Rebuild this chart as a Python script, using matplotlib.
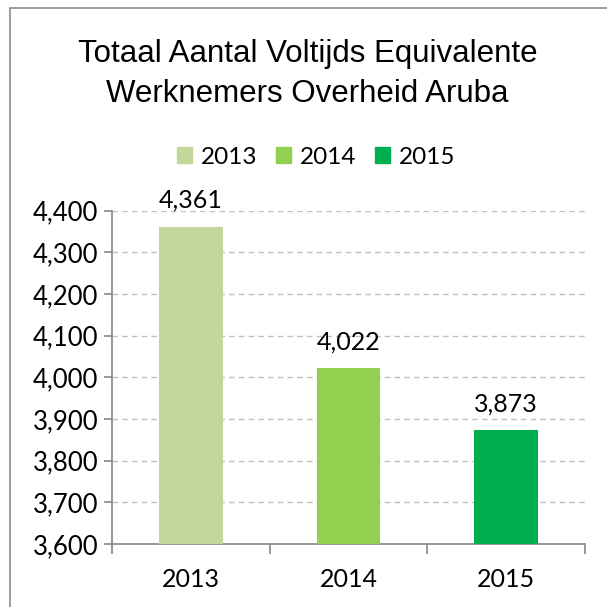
import matplotlib.pyplot as plt
from matplotlib.patches import Rectangle
from matplotlib.ticker import FuncFormatter, FixedLocator
import numpy as np

years = ["2013", "2014", "2015"]
values = [4361, 4022, 3873]
colors = ["#C4D79B", "#92D050", "#00B050"]

fig = plt.figure(figsize=(6.07, 6.07), dpi=100)
# outer chart border (cut off at right and bottom)
fig.patches.append(Rectangle((10/607, -0.05), 1.2, 1 - 8/607 + 0.05, transform=fig.transFigure,
                             fill=False, edgecolor="#8c8c8c", linewidth=1.2))

ax = fig.add_axes([112/607, 1 - 544/607, (585 - 112)/607, (544 - 210.7)/607])
x = np.arange(len(years))
bars = ax.bar(x, values, width=0.405, color=colors, bottom=0, zorder=3)
ax.set_ylim(3600, 4400)
ax.set_xlim(-0.5, 2.5)

for spine in ["top", "right"]:
	ax.spines[spine].set_visible(False)
ax.spines["left"].set_color("#868686")
ax.spines["bottom"].set_color("#868686")
ax.spines["left"].set_linewidth(1.2)
ax.spines["bottom"].set_linewidth(1.2)

ax.yaxis.grid(True, linestyle=(0, (4, 3)), color="#BFBFBF", linewidth=1, zorder=0)
ax.set_yticks(np.arange(3600, 4401, 100))
ax.yaxis.set_major_formatter(FuncFormatter(lambda v, p: f"{int(v):,}"))
ax.tick_params(axis="y", length=6, color="#868686", width=1.2, labelsize=18.5, pad=4)

ax.set_xticks(x)
ax.set_xticklabels(years)
ax.xaxis.set_minor_locator(FixedLocator([-0.5, 0.5, 1.5, 2.5]))
ax.tick_params(axis="x", which="major", length=0, labelsize=18, pad=17)
ax.tick_params(axis="x", which="minor", length=7, color="#868686", width=1.2)
for lab in ax.get_xticklabels() + ax.get_yticklabels():
	lab.set_family("Lato")

for xi, v in zip(x, values):
	ax.text(xi, v + 36, f"{v:,}", ha="center", va="bottom", fontsize=18, family="Lato")

fig.text(0.507, 0.878, "Totaal Aantal Voltijds Equivalente\nWerknemers Overheid Aruba",
	ha="center", va="center", fontsize=22.5, family=["Liberation Sans", "DejaVu Sans"],
	linespacing=1.42)

handles = [Rectangle((0, 0), 1, 1, color=c) for c in colors]
leg = fig.legend(handles, years, loc="center", bbox_to_anchor=(316/607, 1 - 157/607), ncol=3,
	frameon=False, prop={"family": "Lato", "size": 17.5}, handlelength=0.65, handleheight=0.65,
	handletextpad=0.35, columnspacing=0.75)

fig.savefig("out.png", dpi=100)
